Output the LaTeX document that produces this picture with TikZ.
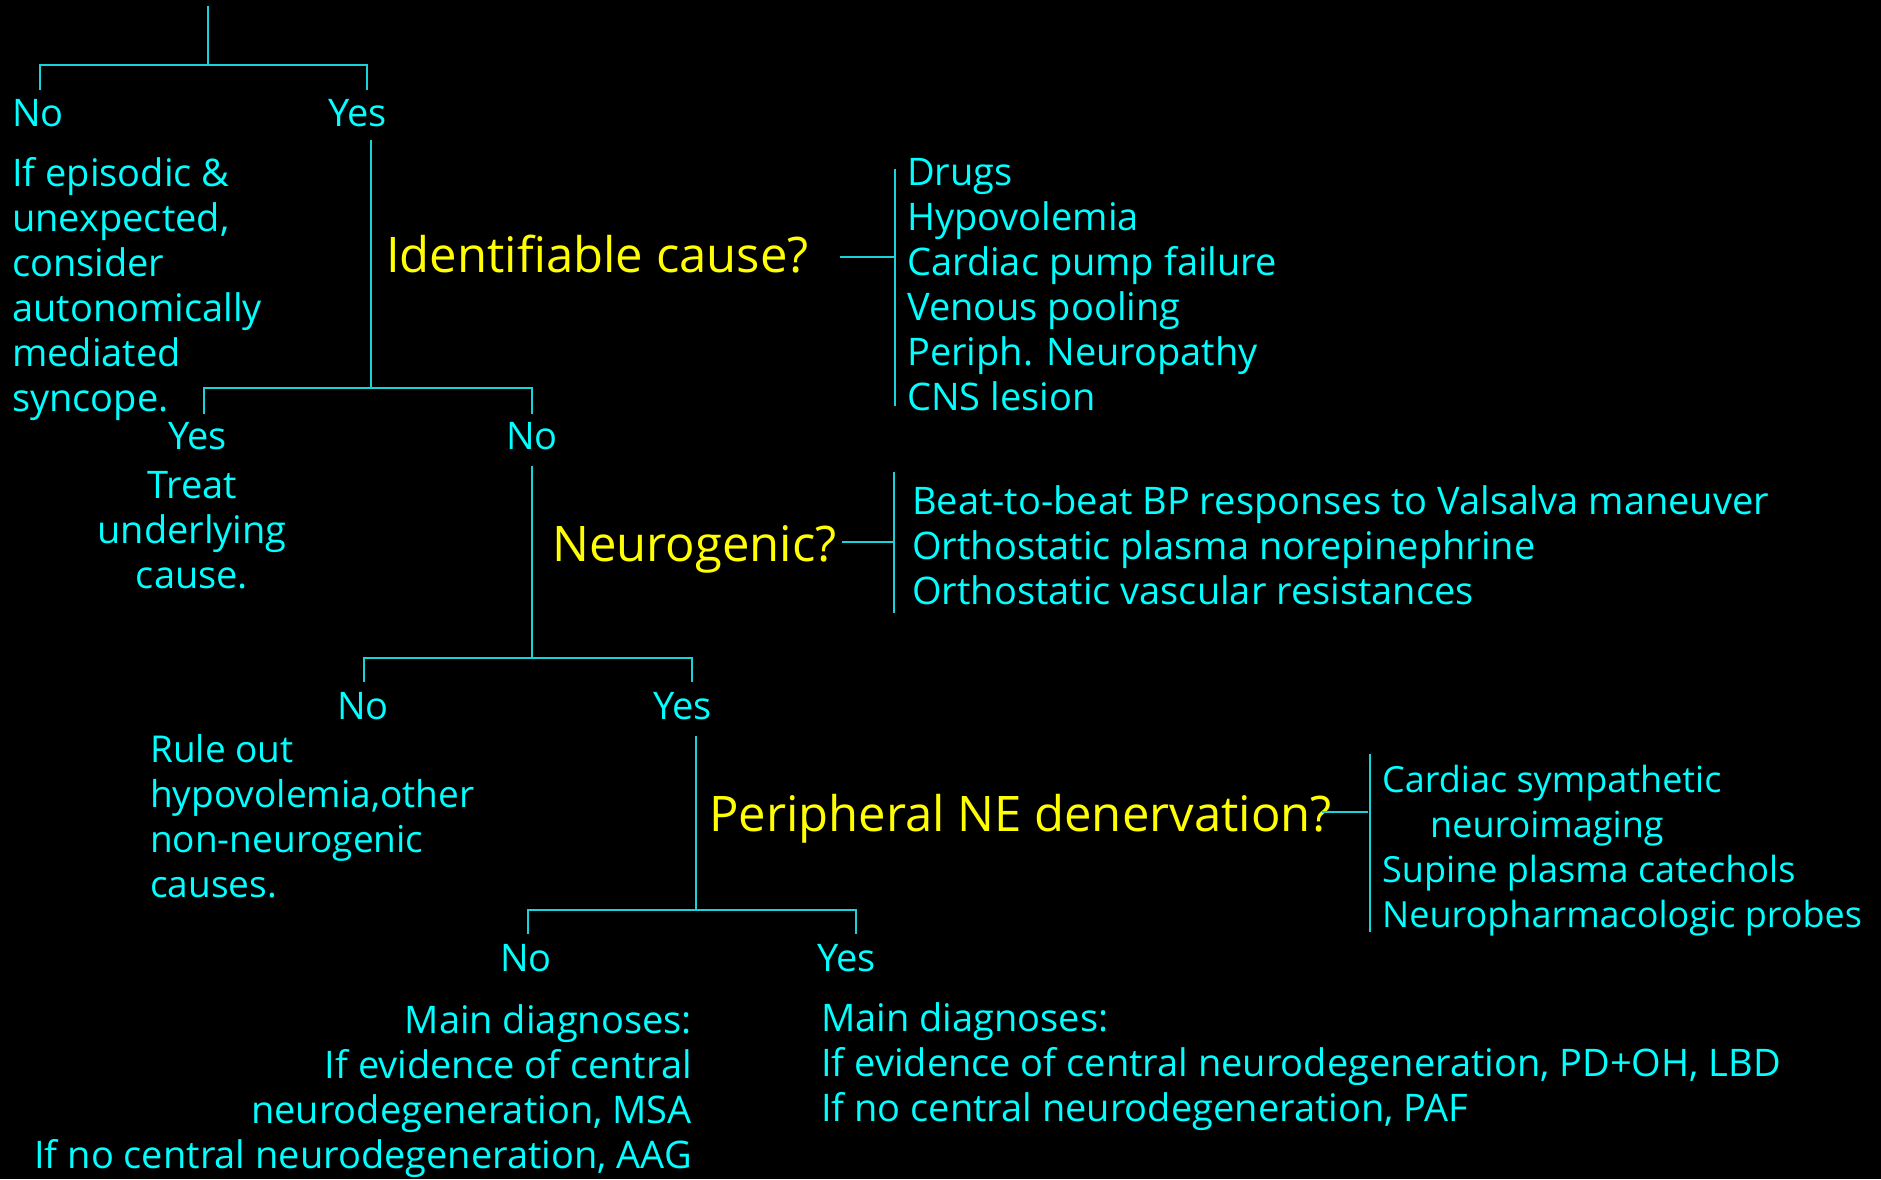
\documentclass[tikz,border=0pt]{standalone}
\usepackage{fontspec}
\setmainfont{Open Sans}
\definecolor{txt}{RGB}{0,255,255}
\definecolor{wirec}{RGB}{24,212,218}
\definecolor{ask}{RGB}{255,255,0}
\begin{document}
\begin{tikzpicture}[x=1pt,y=-1pt,
  wire/.style={draw=wirec,line width=2.6pt},
  lbl/.style={text=txt,inner sep=0pt,font=\fontsize{38}{45}\selectfont},
  para/.style={lbl,align=left,anchor=base west},
  question/.style={text=ask,inner sep=0pt,anchor=base west,font=\fontsize{49}{56}\selectfont}]
\fill[black] (0,0) rectangle (1881,1179);
\useasboundingbox (0,0) rectangle (1881,1179);
% multi-line nodes are placed by the baseline of their last line

% ---- level 1 ----
\coordinate (top) at (208,6);
\coordinate (j1) at (208,65);
\coordinate (d1n) at (40,90);
\coordinate (d1y) at (367,90);
\node[lbl,anchor=base west] (no1) at (12,126) {No};
\node[lbl,anchor=base west] (yes1) at (328,126) {Yes};
\node[para] (episodic) at (12,411) {If episodic \&\\unexpected,\\consider\\autonomically\\mediated\\syncope.};
\draw[wire] (top) -- (j1);
\draw[wire] (d1n) |- (j1) -| (d1y);

% ---- identifiable cause ----
\coordinate (s1) at (371,140);
\coordinate (j2) at (371,388);
\node[question] (q1) at (386,272) {Identifiable cause?};
\coordinate (c1s) at (840,257);
\coordinate (c1) at (894,257);
\coordinate (b1t) at (895,169);
\coordinate (b1b) at (895,406);
\node[para] (causes) at (907,410) {Drugs\\Hypovolemia\\Cardiac pump failure\\Venous pooling\\Periph. Neuropathy\\CNS lesion};
\draw[wire] (s1) -- (j2);
\draw[wire] (c1s) -- (c1);
\draw[wire] (b1t) -- (b1b);

\coordinate (d2y) at (204,414);
\coordinate (d2n) at (532,414);
\draw[wire] (d2y) |- (j2) -| (d2n);
\node[lbl,anchor=base west] (yes2) at (168,449) {Yes};
\node[lbl,anchor=base west] (no2) at (506,449) {No};
\node[lbl,align=center,anchor=base] (treat) at (192,588) {Treat\\underlying\\cause.};

% ---- neurogenic ----
\coordinate (s2) at (532,466);
\coordinate (j3) at (532,658);
\node[question] (q2) at (552,561) {Neurogenic?};
\coordinate (c2s) at (842,542);
\coordinate (c2) at (894,542);
\coordinate (b2t) at (894,472);
\coordinate (b2b) at (894,613);
\node[para] (tests) at (912,604) {Beat-to-beat BP responses to Valsalva maneuver\\Orthostatic plasma norepinephrine\\Orthostatic vascular resistances};
\draw[wire] (s2) -- (j3);
\draw[wire] (c2s) -- (c2);
\draw[wire] (b2t) -- (b2b);

\coordinate (d3n) at (364,682);
\coordinate (d3y) at (692,682);
\draw[wire] (d3n) |- (j3) -| (d3y);
\node[lbl,anchor=base west] (no3) at (337,719) {No};
\node[lbl,anchor=base west] (yes3) at (653,719) {Yes};
\node[para,font=\fontsize{37}{45}\selectfont] (ruleout) at (150,897) {Rule out\\hypovolemia,other\\non-neurogenic\\causes.};

% ---- peripheral NE denervation ----
\coordinate (s3) at (696,736);
\coordinate (j4) at (696,910);
\node[question] (q3) at (709,831) {Peripheral NE denervation?};
\coordinate (c3s) at (1322,812);
\coordinate (c3) at (1368,812);
\coordinate (b3t) at (1370,754);
\coordinate (b3b) at (1370,932);
\node[para,font=\fontsize{36}{45}\selectfont] (probes) at (1382,927) {Cardiac sympathetic\\\hspace*{48pt}neuroimaging\\Supine plasma catechols\\Neuropharmacologic probes};
\draw[wire] (s3) -- (j4);
\draw[wire] (c3s) -- (c3);
\draw[wire] (b3t) -- (b3b);

\coordinate (d4n) at (528,934);
\coordinate (d4y) at (856,934);
\draw[wire] (d4n) |- (j4) -| (d4y);
\node[lbl,anchor=base west] (no4) at (500,971) {No};
\node[lbl,anchor=base west] (yes4) at (817,971) {Yes};
\node[lbl,align=right,anchor=base east] (diagno) at (692,1168) {Main diagnoses:\\If evidence of central\\neurodegeneration, MSA\\If no central neurodegeneration, AAG};
\node[para] (diagyes) at (821,1121) {Main diagnoses:\\If evidence of central neurodegeneration, PD+OH, LBD\\If no central neurodegeneration, PAF};
\end{tikzpicture}
\end{document}
